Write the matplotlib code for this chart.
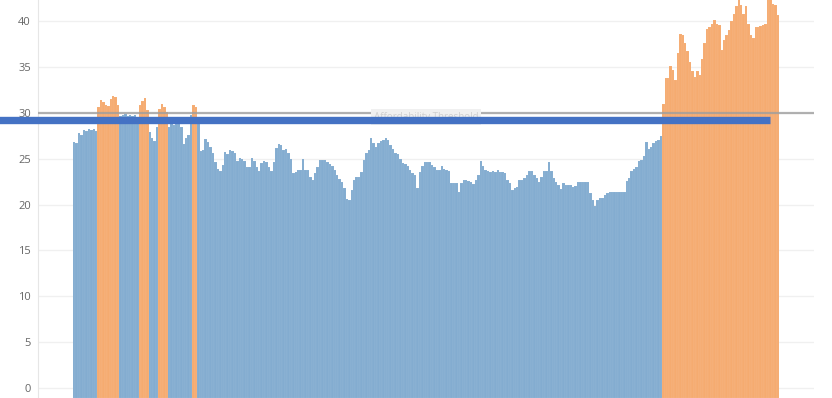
import matplotlib
matplotlib.use("Agg")
import matplotlib.pyplot as plt
import numpy as np

plt.rcParams["font.family"] = ["Open Sans", "DejaVu Sans"]

# Index readings, oldest first, split into stretches for readability.
early = [26.8, 26.7, 27.8, 27.6, 28.1, 28.0, 28.2, 28.1, 28.2, 28.0,
         30.6, 31.4, 31.2, 30.9, 30.7, 31.5, 31.8, 31.7, 30.8,
         29.6, 29.8, 29.9, 29.7, 29.8, 29.6, 29.8, 29.5,
         30.9, 31.3, 31.6, 30.3,
         27.9, 27.2, 26.9, 28.4,
         30.4, 31.0, 30.6, 30.1,
         28.4, 28.9, 28.7, 28.8, 29.0, 28.5, 26.6, 27.3, 27.6, 29.8,
         30.8, 30.6]
mid_a = [29.3, 25.8, 25.9, 27.1, 26.8, 26.3, 25.6, 24.6, 23.9, 23.6, 24.3,
         25.7, 25.5, 25.9, 25.8, 25.6, 24.7, 25.1, 25.0, 24.7,
         24.1, 24.1, 25.1, 24.7, 24.1, 23.6, 24.5, 24.7, 24.6, 24.1,
         23.6, 24.6, 26.2, 26.6, 26.5, 25.9, 26.1, 25.6, 25.0, 23.4,
         23.5, 23.8, 23.8, 25.0, 23.8, 23.8, 23.0, 22.7]
mid_b = [23.4, 24.1, 24.8, 24.9, 24.9, 24.6, 24.4, 24.2, 23.8, 23.2,
         22.8, 22.5, 21.8, 20.6, 20.5, 21.6, 22.7, 23.0, 23.0, 23.5,
         24.8, 25.6, 25.9, 27.2, 26.7, 26.3, 26.7, 26.9, 27.0, 27.3,
         27.0, 26.5, 26.0, 25.6, 25.5, 25.0, 24.5, 24.4, 24.2, 23.8,
         23.4, 23.2, 21.8, 23.5, 24.2, 24.6, 24.6, 24.6, 24.3, 24.1,
         23.8, 23.8]
mid_c = [24.2, 23.9, 23.8, 23.6, 22.3, 22.3, 22.3, 21.4, 22.3,
         22.7, 22.7, 22.6, 22.4, 22.2, 22.7, 23.2, 24.7, 24.2, 23.8,
         23.6, 23.5, 23.6, 23.5, 23.8, 23.5, 23.5, 23.4, 22.7, 22.3,
         21.6, 21.8, 21.9, 22.7, 22.7, 22.9, 23.2, 23.6, 23.6, 23.2,
         22.9, 22.5, 23.0, 23.7, 23.7, 24.6, 23.7, 22.9, 22.5, 22.1,
         21.7]
recovery = [22.3, 22.1, 22.1, 22.1, 21.9, 22.0, 22.5, 22.4, 22.5, 22.4,
            22.4, 21.2, 20.5, 19.8, 20.5, 20.7, 20.7, 21.0, 21.2, 21.4,
            21.4, 21.4, 21.4, 21.4, 21.4, 21.4, 22.6, 22.9, 23.6, 23.9,
            24.1, 24.7, 24.9, 25.3, 26.8, 26.0, 26.3, 26.7, 26.9, 27.0,
            27.5]
surge = [31.0, 33.8, 33.8, 35.1, 34.7, 33.6, 36.5, 38.6, 38.5, 37.6,
         36.7, 35.5, 34.5, 33.9, 34.5, 34.1, 35.9, 37.6, 39.1, 39.4,
         39.7, 40.1, 39.7, 39.6, 36.8, 37.9, 38.5, 39.0, 40.0, 40.8,
         41.6, 42.8, 41.7, 40.8, 41.6, 39.7, 38.5, 38.1, 39.4, 39.3,
         39.5, 39.6, 39.7, 42.8, 42.8, 41.9, 41.7, 40.7]

values = np.array(early + mid_a + mid_b + mid_c + recovery + surge)

THRESHOLD = 30
THRESHOLD_LABEL = "Affordability Threshold"
REF_LEVEL = 29.25
y_ticks = [0, 5, 10, 15, 20, 25, 30, 35, 40]

BLUE = "#83acd0"
ORANGE = "#f5ab70"
Y_MIN, Y_MAX = -1.09, 42.29

fig = plt.figure(figsize=(8.32, 3.98), dpi=100)
ax = fig.add_axes([38 / 832, 0, 776 / 832, 1])

x = np.arange(len(values))
colors = np.where(values >= THRESHOLD, ORANGE, BLUE)
# full-width bars with a faint light seam between neighbours
ax.bar(x, values - Y_MIN, bottom=Y_MIN, width=1.0, color=colors,
       edgecolor=(1, 1, 1, 0.15), linewidth=0.3, zorder=2)

ax.axhline(THRESHOLD, color="#9e9e9e", lw=1.6, alpha=0.8, zorder=3)
# label sits half under the reference line
ax.text(0.5, THRESHOLD - 0.5, THRESHOLD_LABEL,
        transform=ax.get_yaxis_transform(),
        ha="center", va="center", fontsize=7, color="#cfcfcf", zorder=4,
        bbox=dict(boxstyle="square,pad=0.25", fc="#f0f0f0", ec="none"))
ax.axhline(REF_LEVEL, xmin=-0.05, xmax=0.943, color="#4472c4", lw=5.3,
           solid_capstyle="butt", clip_on=False, zorder=5)

ax.set_xlim(-14.9, len(values) + 13.9)
ax.set_ylim(Y_MIN, Y_MAX)
ax.set_yticks(y_ticks)
ax.set_xticks([])
ax.grid(axis="y", color="#f0f0f0", lw=1)
ax.set_axisbelow(True)
ax.tick_params(axis="y", length=0, pad=5, labelsize=8, labelcolor="#666666")
for side in ("top", "right", "bottom"):
    ax.spines[side].set_visible(False)
ax.spines["left"].set_color("#e6e6e6")

fig.savefig("out.png", dpi=100)
